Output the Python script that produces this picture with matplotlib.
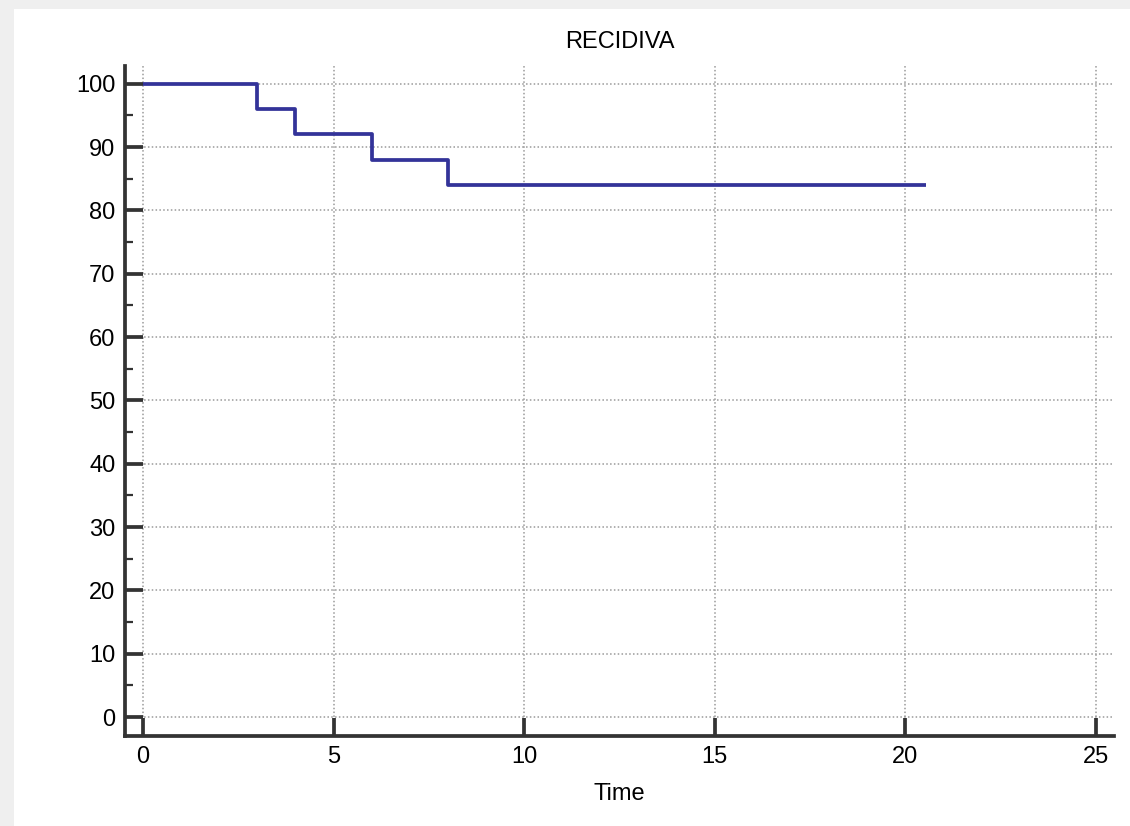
#!/usr/bin/env python3
"""Curva de Kaplan-Meier para RECIDIVA."""

import matplotlib

matplotlib.use("Agg")

import matplotlib.pyplot as plt
from matplotlib.patches import Rectangle
from matplotlib.ticker import MultipleLocator

# datos
time_points = [0, 3, 4, 6, 8, 20.55]
survival = [100, 96, 92, 88, 84, 84]

x_ticks = [0, 5, 10, 15, 20, 25]
y_ticks = [0, 10, 20, 30, 40, 50, 60, 70, 80, 90, 100]

W, H = 1130, 826
plt.rcParams["font.family"] = ["Liberation Sans", "DejaVu Sans"]

fig = plt.figure(figsize=(W / 100, H / 100), dpi=100, facecolor="#efefef")
fig.add_artist(
    Rectangle((14 / W, 0), 1 - 14 / W, 1 - 9 / H, transform=fig.transFigure,
              facecolor="white", edgecolor="none", zorder=-10)
)

ax = fig.add_axes([125 / W, (H - 736) / H, (1114 - 125) / W, (736 - 66) / H])
ax.set_facecolor("none")

ax.plot(time_points, survival, drawstyle="steps-post", color="#333399",
        linewidth=2.7, solid_capstyle="butt", zorder=3)

ax.set_xlim(-0.47, 25.47)
ax.set_ylim(-3.0, 102.8)
ax.set_xticks(x_ticks)
ax.set_yticks(y_ticks)
ax.yaxis.set_minor_locator(MultipleLocator(5))

ax.grid(which="major", color="#9a9a9a", linestyle=(0, (1, 1.5)), linewidth=1.1)

for side in ("top", "right"):
    ax.spines[side].set_visible(False)
for side in ("left", "bottom"):
    ax.spines[side].set_color("#333333")
    ax.spines[side].set_linewidth(2.7)

ax.tick_params(which="major", direction="in", length=13, width=2.7,
               color="#333333", labelsize=17, pad=7)
ax.tick_params(which="minor", direction="in", length=6, width=1.6,
               color="#333333")
ax.tick_params(axis="x", which="minor", bottom=False)

ax.set_title("RECIDIVA", fontsize=17, pad=13)
ax.set_xlabel("Time", fontsize=17, labelpad=11)

fig.savefig("out.png", dpi=100, facecolor=fig.get_facecolor())
